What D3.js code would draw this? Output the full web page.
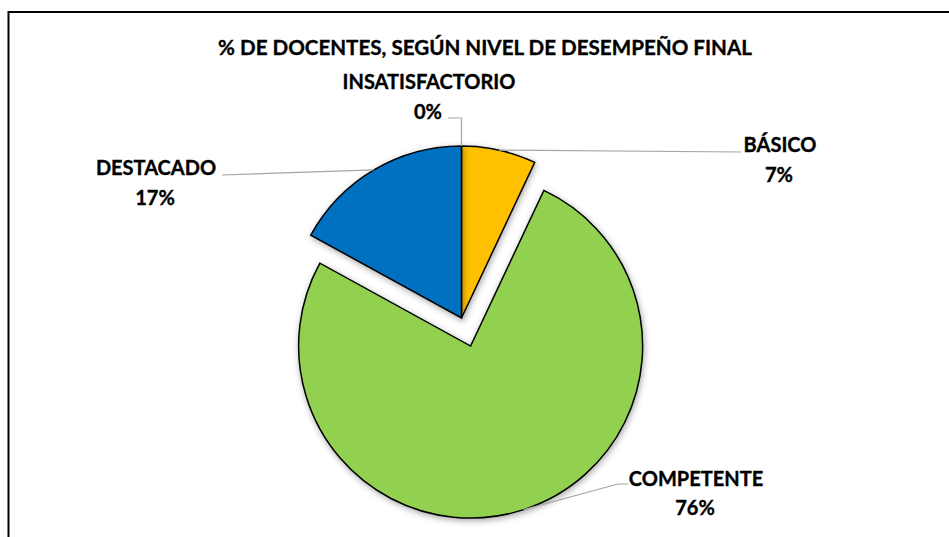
<!DOCTYPE html>
<html>
<head>
<meta charset="utf-8">
<style>
  body { margin: 0; background: #fff; }
  svg text { font-family: Lato, "Open Sans", sans-serif; font-weight: bold; fill: #000; stroke: #000; stroke-width: 0.35px; }
  .slice { stroke: #000; stroke-width: 1.5px; }
  .leader { fill: none; stroke: #a6a6a6; stroke-width: 1.2px; }
</style>
</head>
<body>
<div id="chart"></div>
<script src="https://cdn.jsdelivr.net/npm/d3@7"></script>
<script>
  // data
  var categories = ["INSATISFACTORIO", "BÁSICO", "COMPETENTE", "DESTACADO"];
  var values = [0, 7, 76, 17];
  var colors = ["#a5a5a5", "#ffc000", "#92d050", "#0070c0"];
  var exploded = ["COMPETENTE"];
  var title = "% DE DOCENTES, SEGÚN NIVEL DE DESEMPEÑO FINAL";

  var width = 949, height = 537;
  var cx = 461.5, cy = 318, radius = 172, explode = 29.5;

  // label layout: text centre x, baseline of first line, leader elbow / end
  var labelLayout = {
    "INSATISFACTORIO": { x: 429, y: 89, pts: [[461.5, 118], [448, 118]] },
    "BÁSICO": { x: 780, y: 152, pts: [[741, 152]] },
    "COMPETENTE": { x: 696, y: 485.5, pts: [[618, 484], [628, 484]] },
    "DESTACADO": { x: 156, y: 175, pts: [[222, 175]] }
  };

  var svg = d3.select("#chart").append("svg")
    .attr("width", width)
    .attr("height", height);

  // frame (right and bottom edges fall outside the picture)
  svg.append("rect")
    .attr("x", 8.5).attr("y", 12)
    .attr("width", 1000).attr("height", 600)
    .attr("fill", "#fff")
    .attr("stroke", "#000")
    .attr("stroke-width", 2);

  var defs = svg.append("defs");
  var f = defs.append("filter").attr("id", "shadow")
    .attr("x", "-20%").attr("y", "-20%").attr("width", "140%").attr("height", "140%");
  f.append("feDropShadow")
    .attr("dx", 1).attr("dy", 2)
    .attr("stdDeviation", 3)
    .attr("flood-color", "#000")
    .attr("flood-opacity", 0.35);

  svg.append("text")
    .attr("x", 485)
    .attr("y", 55)
    .attr("text-anchor", "middle")
    .style("font-size", "20.6px")
    .text(title);

  var data = categories.map(function (c, i) {
    return { name: c, value: values[i], color: colors[i] };
  });

  var pie = d3.pie()
    .sort(null)
    .value(function (d) { return d.value; });

  var arc = d3.arc().innerRadius(0).outerRadius(radius);

  var arcs = pie(data);

  function offset(d) {
    if (exploded.indexOf(d.data.name) === -1) return [0, 0];
    var a = (d.startAngle + d.endAngle) / 2;
    return [Math.sin(a) * explode, -Math.cos(a) * explode];
  }

  var g = svg.append("g")
    .attr("transform", "translate(" + cx + "," + cy + ")");

  g.selectAll("path.slice")
    .data(arcs.filter(function (d) { return d.value > 0; }))
    .enter().append("path")
    .attr("class", "slice")
    .attr("filter", "url(#shadow)")
    .attr("transform", function (d) { return "translate(" + offset(d) + ")"; })
    .attr("fill", function (d) { return d.data.color; })
    .attr("d", arc);

  // leader lines
  var line = d3.line();
  svg.selectAll("path.leader")
    .data(arcs)
    .enter().append("path")
    .attr("class", "leader")
    .attr("d", function (d) {
      var a = (d.startAngle + d.endAngle) / 2;
      var o = offset(d);
      var start = [cx + o[0] + Math.sin(a) * radius, cy + o[1] - Math.cos(a) * radius];
      return line([start].concat(labelLayout[d.data.name].pts));
    });

  var labels = svg.selectAll("text.lbl")
    .data(arcs)
    .enter().append("text")
    .attr("class", "lbl")
    .attr("text-anchor", "middle")
    .style("font-size", "20px")
    .attr("x", function (d) { return labelLayout[d.data.name].x; })
    .attr("y", function (d) { return labelLayout[d.data.name].y; });

  labels.append("tspan")
    .text(function (d) { return d.data.name; });

  var total = d3.sum(values);
  labels.append("tspan")
    .attr("x", function (d) { return labelLayout[d.data.name].x - 1; })
    .attr("dy", 29.5)
    .text(function (d) { return Math.round(d.value / total * 100) + "%"; });
</script>
</body>
</html>
